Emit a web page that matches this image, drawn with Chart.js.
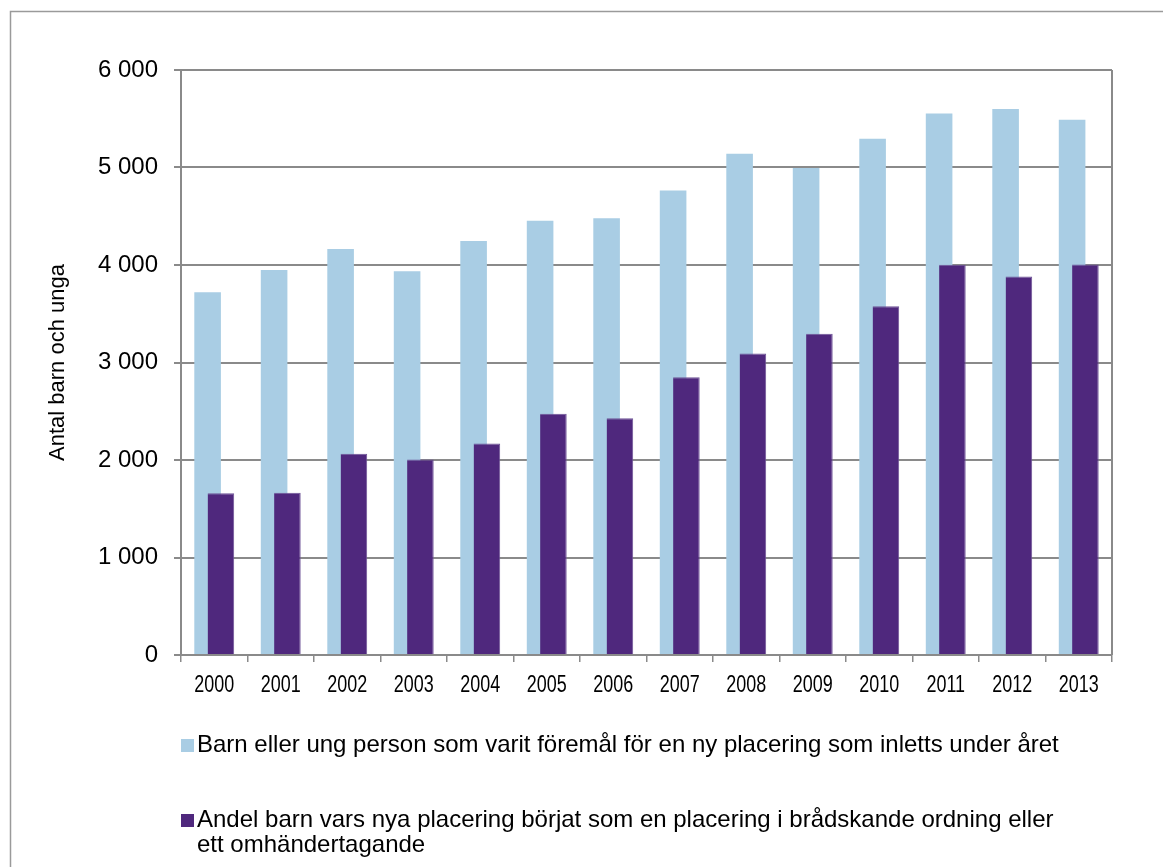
<!DOCTYPE html>
<html>
<head>
<meta charset="utf-8">
<script src="https://cdn.jsdelivr.net/npm/chart.js@4"></script>
<style>
  html, body { margin: 0; padding: 0; background: #fff; }
  #wrap { width: 1163px; height: 867px; position: relative; }
</style>
</head>
<body>
<div id="wrap"><canvas id="grafico" width="1163" height="867"></canvas></div>
<script>
const years = ['2000', '2001', '2002', '2003', '2004', '2005', '2006', '2007', '2008', '2009', '2010', '2011', '2012', '2013'];
const nyaPlaceringar = [3720, 3950, 4165, 3935, 4245, 4455, 4480, 4765, 5140, 4995, 5295, 5555, 5600, 5490];
const bradskande = [1660, 1665, 2065, 2005, 2170, 2475, 2428, 2848, 3092, 3296, 3578, 4003, 3882, 4005];
const yTicks = [0, 1000, 2000, 3000, 4000, 5000, 6000];
const legendLines = [
  ['Barn eller ung person som varit föremål för en ny placering som inletts under året'],
  ['Andel barn vars nya placering börjat som en placering i brådskande ordning eller', 'ett omhändertagande']
];

const font = "'Liberation Sans', Arial, sans-serif";
const gray = '#8a8a8a';

// ram runt hela diagrammet, högerkant i plotytan, årtal och legend under
const extras = {
  id: 'extras',
  beforeDraw(chart) {
    const c = chart.ctx;
    c.save();
    c.fillStyle = '#fff';
    c.fillRect(0, 0, chart.width, chart.height);
    c.strokeStyle = '#9a9a9a';
    c.lineWidth = 1.5;
    c.strokeRect(10.5, 11.5, 1300, 1000);
    c.restore();
  },
  // ljusblå staplar ritas först så att de lila hamnar ovanpå
  beforeDatasetsDraw(chart) {
    chart.getDatasetMeta(0).controller.draw();
  },
  beforeDatasetDraw(chart, args) {
    if (args.index === 0) return false;
  },
  afterDraw(chart) {
    const c = chart.ctx;
    const a = chart.chartArea;
    const x = chart.scales.x;
    c.save();
    c.strokeStyle = gray;
    c.lineWidth = 2;
    c.beginPath();
    c.moveTo(a.right, a.top);
    c.lineTo(a.right, a.bottom);
    c.stroke();

    // smala årtal som i originalet
    c.font = '23px ' + font;
    c.fillStyle = '#000';
    c.textAlign = 'center';
    c.textBaseline = 'middle';
    years.forEach((y, i) => {
      c.save();
      c.translate(x.getPixelForTick(i), a.bottom + 31);
      c.scale(0.78, 1);
      c.fillText(y, 0, 0);
      c.restore();
    });

    c.textAlign = 'left';
    c.font = '24px ' + font;
    const rows = [745, 820];
    chart.data.datasets.forEach((ds, i) => {
      c.fillStyle = ds.backgroundColor;
      c.fillRect(181, rows[i] - 6, 13, 13);
      c.fillStyle = '#000';
      legendLines[i].forEach((line, j) => {
        c.fillText(line, 197, rows[i] + j * 25);
      });
    });
    c.restore();
  }
};

new Chart(document.getElementById('grafico'), {
  type: 'bar',
  data: {
    labels: years,
    datasets: [
      {
        label: legendLines[0].join(' '),
        data: nyaPlaceringar,
        backgroundColor: '#A9CDE4',
        categoryPercentage: 0.4,
        barPercentage: 2.0
      },
      {
        label: legendLines[1].join(' '),
        data: bradskande,
        backgroundColor: '#4F287D',
        borderColor: '#6E5397',
        borderWidth: { top: 1, left: 0, right: 1, bottom: 0 },
        categoryPercentage: 0.4,
        barPercentage: 2.0
      }
    ]
  },
  options: {
    responsive: false,
    animation: false,
    layout: { padding: { top: 70, right: 51, left: 0, bottom: 0 } },
    plugins: {
      legend: { display: false },
      tooltip: { enabled: false }
    },
    scales: {
      x: {
        afterFit: s => { s.height = 212; },
        grid: {
          offset: true,
          drawOnChartArea: false,
          color: gray,
          lineWidth: 1.5,
          tickLength: 7
        },
        border: { color: gray, width: 2 },
        ticks: { display: false }
      },
      y: {
        min: 0,
        max: 6000,
        afterFit: s => { s.width = 181; },
        afterBuildTicks: s => { s.ticks = yTicks.map(v => ({ value: v })); },
        grid: {
          color: gray,
          lineWidth: 2,
          tickLength: 7
        },
        border: { color: gray, width: 2 },
        ticks: {
          color: '#000',
          font: { family: font, size: 24 },
          padding: 16,
          callback: v => String(v).replace(/\B(?=(\d{3})+(?!\d))/g, ' ')
        },
        title: {
          display: true,
          text: 'Antal barn och unga',
          color: '#000',
          font: { family: font, size: 22 },
          padding: { top: 45, bottom: 0 }
        }
      }
    }
  },
  plugins: [extras]
});
</script>
</body>
</html>
